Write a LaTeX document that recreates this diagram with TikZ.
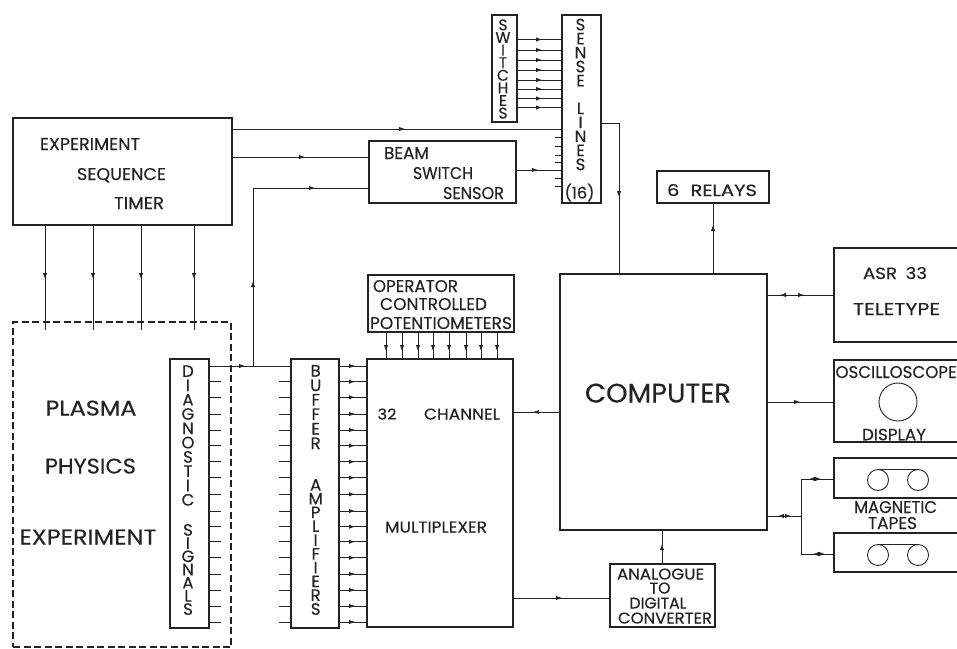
\documentclass[tikz,border=0pt]{standalone}
\usepackage{fontspec}
\setmainfont{Poppins}[FakeBold=0.25]
\usetikzlibrary{arrows.meta,decorations.markings}
\definecolor{ink}{HTML}{232323}
\newcommand{\bx}[5]{\node[box,minimum width={#4-#2},minimum height={#5-#3}] (#1) at ({(#2+#4)/2},{(#3+#5)/2}) {};}
\newcommand{\lbl}[6]{\node[lbl,anchor=base] (#1) at (#2,{#3+#5/2}) {\resizebox{#4pt}{#5pt}{#6}};}
\newcommand{\vw}[6]{\node[lbl,align=center,font=\fontsize{#5}{#4}\selectfont] (#1) at (#2,#3) {#6};}
\tikzset{
 box/.style={draw=ink,line width=1.1pt,inner sep=0pt,outer sep=0pt,rectangle},
 dashbox/.style={draw=ink,line width=1.2pt,dash pattern=on 7pt off 3.5pt,inner sep=0pt,outer sep=0pt,rectangle},
 lbl/.style={inner sep=0pt,outer sep=0pt,text=ink},
 wire/.style={draw=ink,line width=0.8pt},
 stub/.style={draw=ink,line width=0.8pt},
 tipf/.style={postaction={decorate},decoration={markings,mark=at position #1pt with {\arrow{Latex[length=6pt,width=4.4pt]}}}},
 tipff/.style 2 args={postaction={decorate},decoration={markings,
   mark=at position #1pt with {\arrow{Latex[length=6pt,width=4.4pt]}},
   mark=at position #2pt with {\arrow{Latex[length=6pt,width=4.4pt]}}}},
 tipfr/.style 2 args={postaction={decorate},decoration={markings,
   mark=at position #1pt with {\arrowreversed{Latex[length=6pt,width=4.4pt]}},
   mark=at position #2pt with {\arrow{Latex[length=6pt,width=4.4pt]}}}},
 reel/.style={draw=ink,line width=0.9pt,circle,inner sep=0pt,outer sep=0pt,minimum size=#1pt},
}
\begin{document}
\begin{tikzpicture}[x=1pt,y=-1pt]
\useasboundingbox (0,0) rectangle (957,648);
% boxes
\bx{timer}{13}{118}{232}{225}
\node[dashbox,minimum width=218pt,minimum height=325pt] (plasma) at (122,484.5) {};
\bx{diag}{170}{359}{209}{628}
\bx{buf}{291}{359}{339}{628}
\bx{mux}{367}{359}{513}{627}
\bx{oper}{368}{275}{514}{332}
\bx{beam}{369}{141}{516}{203}
\bx{sw}{492}{15}{517}{122}
\bx{sense}{562}{15}{601}{203}
\bx{rel}{657}{171}{769}{203}
\bx{comp}{560}{274}{767}{530}
\bx{adc}{610}{564}{715}{627}
\bx{asr}{834}{248}{962}{342}
\bx{osc}{834}{360}{962}{442}
\bx{tapea}{834}{458}{962}{498}
\bx{tapeb}{834}{533}{962}{572}
\node[reel=38] (crt) at (898,402) {};
\node[reel=21] (ra1) at (878,480) {};
\node[reel=21] (ra2) at (918,480) {};
\node[reel=21] (rb1) at (878,555) {};
\node[reel=21] (rb2) at (918,555) {};
\draw[wire] (ra1.north) -- (ra2.north);
\draw[wire] (rb1.north) -- (rb2.north);
% labels
\lbl{t1}{90}{144}{100}{12}{EXPERIMENT}
\lbl{t2}{121.5}{174}{89}{12}{SEQUENCE}
\lbl{t3}{139}{203}{50}{12}{TIMER}
\lbl{p1}{91}{408}{91}{15}{PLASMA}
\lbl{p2}{90.5}{466}{91}{15}{PHYSICS}
\lbl{p3}{88}{537}{137}{15}{EXPERIMENT}
\lbl{m1}{387}{414}{19}{11}{32}
\lbl{m2}{462}{414}{76}{11}{CHANNEL}
\lbl{m3}{436}{527}{102}{11}{MULTIPLEXER}
\lbl{c1}{658}{393}{146}{19}{COMPUTER}
\lbl{r1}{712}{190}{90}{12}{6\kern3pt\ RELAYS}
\lbl{a1}{895}{273}{64}{12}{ASR\kern2pt\ 33}
\lbl{a2}{896.5}{309}{87}{12}{TELETYPE}
\lbl{o1}{896}{372}{121}{12}{OSCILLOSCOPE}
\lbl{o2}{894}{434.5}{64}{11.5}{DISPLAY}
\lbl{g1}{895.5}{507}{83}{12}{MAGNETIC}
\lbl{g2}{892.5}{523}{49}{12}{TAPES}
\lbl{b1}{406.5}{153}{45}{12}{BEAM}
\lbl{b2}{443}{173}{60}{12}{SWITCH}
\lbl{b3}{473.5}{193}{61}{12}{SENSOR}
\lbl{q1}{415.5}{286}{85}{12}{OPERATOR}
\lbl{q2}{433.5}{304}{107}{12}{CONTROLLED}
\lbl{q3}{441}{323}{142}{12}{POTENTIOMETERS}
\lbl{d1}{660.5}{574}{87}{11}{ANALOGUE}
\lbl{d2}{660}{588}{21}{11}{TO}
\lbl{d3}{658}{603}{57}{11}{DIGITAL}
\lbl{d4}{665}{618}{94}{11}{CONVERTER}
\lbl{s3}{579.5}{191}{30}{15}{(16)}
\vw{s0}{503}{69}{12.6}{15.5}{S\\W\\I\\T\\C\\H\\E\\S}
\vw{s1}{580.5}{52.5}{14}{16.5}{S\\E\\N\\S\\E}
\vw{s2}{580.5}{136.5}{14}{16.5}{L\\I\\N\\E\\S}
\vw{v1}{188}{435.5}{14.3}{16.5}{D\\I\\A\\G\\N\\O\\S\\T\\I\\C}
\vw{v2}{188}{569.5}{13.2}{16.5}{S\\I\\G\\N\\A\\L\\S}
\vw{v3}{315.7}{407}{14.5}{16.5}{B\\U\\F\\F\\E\\R}
\vw{v4}{315.7}{547}{13.8}{16.5}{A\\M\\P\\L\\I\\F\\I\\E\\R\\S}
% connectors: timer
\foreach \x in {45,93,141,194}
  \draw[wire,tipf=54] (timer.south -| \x,0) -- (\x,330);
\draw[wire,tipf=173] (timer.east |- 0,129) -- (sense.west |- 0,129);
\draw[wire,tipf=73] (timer.east |- 0,157) -- (beam.west |- 0,157);
% main diagnostic line
\coordinate (branch) at (253,366);
\draw[wire,tipf=36] (diag.east |- 0,366) -- (buf.west |- 0,366);
\draw[wire,tipff={85}{240}] (branch) -- (branch |- 0,188) -- (beam.west |- 0,188);
\foreach \y in {381.7,397.3,414,430,445.7,461.7,477.7,494.3,511,526.7,541.7,557.7,574,590,606,622} {
  \draw[stub] (diag.east |- 0,\y) -- ++(12,0);
  \draw[stub] (buf.west |- 0,\y) -- ++(-12,0);
}
\foreach \y in {366,381.7,397.3,414,430,445.7,461.7,477.7,494.3,511,526.7,541.7,557.7,574,590,606,622}
  \draw[wire,tipf=16] (buf.east |- 0,\y) -- (mux.west |- 0,\y);
\foreach \x in {386,402,418,433,449,466,481,497}
  \draw[wire,tipf=19] (oper.south -| \x,0) -- (mux.north -| \x,0);
% sense lines
\foreach \y in {39.5,50,60,70,80,89,98.5,107.5}
  \draw[wire,tipf=25] (sw.east |- 0,\y) -- (sense.west |- 0,\y);
\foreach \y in {137,146,155,162.7,178,186.7}
  \draw[stub] (sense.west |- 0,\y) -- ++(-7,0);
\draw[wire,tipf=22] (beam.east |- 0,170) -- (sense.west |- 0,170);
\coordinate (sbend) at (619,123);
\draw[wire,tipf=92] (sense.east |- sbend) -- (sbend) -- (sbend |- comp.north);
% computer
\draw[wire,tipf=49] (comp.north -| 713,0) -- (rel.south -| 713,0);
\draw[wire,tipf=27] (comp.west |- 0,412) -- (mux.east |- 0,412);
\draw[wire,tipf=49] (mux.east |- 0,598) -- (adc.west |- 0,598);
\draw[wire,tipf=20] (adc.north -| 662,0) -- (comp.south -| 662,0);
\draw[wire,tipfr={13}{37}] (comp.east |- 0,295) -- (asr.west |- 0,295);
\draw[wire,tipf=33] (comp.east |- 0,402) -- (osc.west |- 0,402);
\coordinate (tj) at (801,516);
\draw[wire,tipfr={11}{24}] (comp.east |- tj) -- (tj);
\draw[wire,tipfr={45}{57}] (tj) -- (tj |- 0,479) -- (tapea.west |- 0,479);
\draw[wire,tipfr={50}{62}] (tj) -- (tj |- 0,554) -- (tapeb.west |- 0,554);
\end{tikzpicture}
\end{document}
